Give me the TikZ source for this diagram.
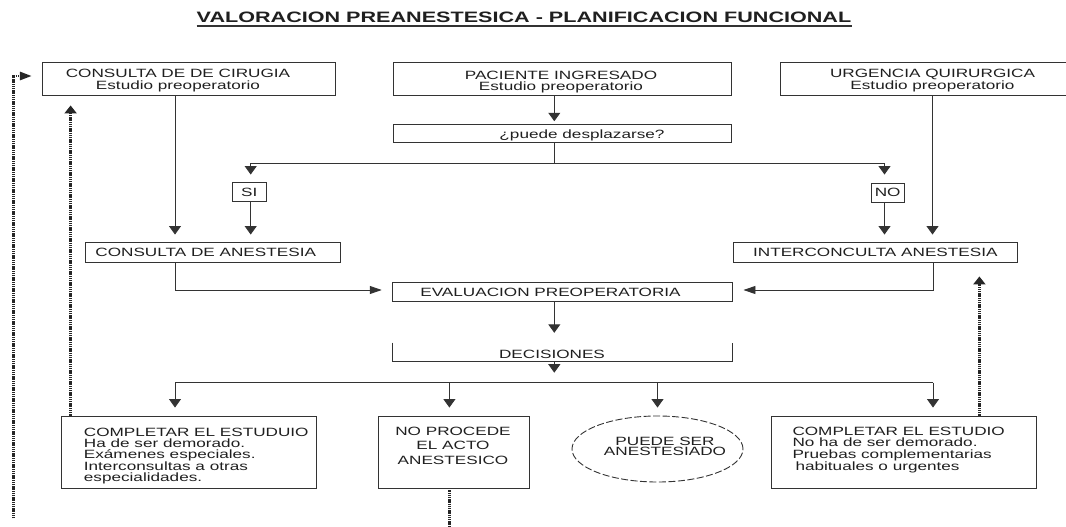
\documentclass[tikz,border=0pt]{standalone}
\usepackage{fontspec}
\setmainfont{Liberation Sans}[FakeStretch=1.43]
\usetikzlibrary{arrows.meta,shapes.geometric}
\definecolor{ink}{gray}{0.2}
\definecolor{txtc}{gray}{0.12}
\newcommand{\bodyfnt}{\fontsize{12}{12}\selectfont}
\begin{document}
\begin{tikzpicture}[x=1pt,y=-1pt,
  box/.style={draw=ink, line width=0.9pt, inner sep=0pt, text=txtc, font=\bodyfnt},
  boxline/.style={draw=ink, line width=0.9pt},
  lbl/.style={inner sep=0pt, text=txtc, font=\bodyfnt},
  varr/.style={draw=ink, line width=0.9pt, -{Triangle[width=12pt,length=8.5pt]}},
  harr/.style={draw=ink, line width=0.9pt, -{Triangle[width=8pt,length=12pt]}},
  plain/.style={draw=ink, line width=0.9pt},
  dots/.style={draw=black!85, line width=2.6pt, dash pattern=on 1.4pt off 0.8pt},
  vdotarr/.style={dots, -{Triangle[width=12pt,length=8pt]}},
  hdotarr/.style={dots, -{Triangle[width=8pt,length=12pt]}}
]
\useasboundingbox (0,0) rectangle (1066,527);

% title
\node[lbl, font=\bfseries\fontsize{15.1}{15}\selectfont, anchor=base] (title) at (524,22.7)
  {VALORACION PREANESTESICA - PLANIFICACION FUNCIONAL};
\draw[ink, line width=2pt] ([yshift=-3pt]title.base west) -- ([yshift=-3pt]title.base east);

% top row
\node[box, minimum width=292.3pt, minimum height=32.3pt] (cir) at (188.85,78.85) {};
\node[lbl, align=center, anchor=north, font=\fontsize{12}{12}\selectfont] (cirT) at (178,69)
  {CONSULTA DE DE CIRUGIA\\Estudio preoperatorio};
\node[box, minimum width=338.4pt, minimum height=32.3pt] (pac) at (562.5,78.85) {};
\node[lbl, align=center, anchor=north, font=\fontsize{12}{10.5}\selectfont] (pacT) at (561,71)
  {PACIENTE INGRESADO\\Estudio preoperatorio};
\node[box, minimum width=286.3pt, minimum height=32.3pt] (urg) at (923.85,78.85) {};
\node[lbl, align=center, anchor=north, font=\fontsize{12}{11.6}\selectfont] (urgT) at (932.5,69)
  {URGENCIA QUIRURGICA\\Estudio preoperatorio};

\node[box, minimum width=338.4pt, minimum height=18.3pt] (desp) at (562.5,133.15) {};
\node[lbl, anchor=base] (despT) at (582,138) {¿puede desplazarse?};

\node[box, minimum width=33.8pt, minimum height=19pt] (si) at (249.3,192.2) {SI};
\node[box, minimum width=32.6pt, minimum height=19pt] (no) at (887.7,192.5) {NO};

\node[box, minimum width=255.2pt, minimum height=20pt] (cane) at (212.6,252.7) {};
\node[lbl, anchor=base] (caneT) at (205.7,256.2) {CONSULTA DE ANESTESIA};
\node[box, minimum width=283.4pt, minimum height=20pt] (inter) at (875.3,252.7) {INTERCONCULTA ANESTESIA};

\node[box, minimum width=339.9pt, minimum height=19pt] (eval) at (562.55,292.2) {};
\node[lbl, anchor=base] (evalT) at (550.5,296.7) {EVALUACION PREOPERATORIA};

\node[inner sep=0pt, minimum width=339.6pt, minimum height=19pt] (dec) at (562.4,352.2) {};
\draw[boxline] (dec.north west) -- (dec.south west) -- (dec.south east) -- (dec.north east);
\node[lbl, anchor=base] (decT) at (552,358.3) {DECISIONES};

% bottom row
\node[box, minimum width=254.8pt, minimum height=72.3pt] (cl) at (188.7,452.15) {};
\node[lbl, align=left, anchor=north west, font=\fontsize{12}{11.3}\selectfont] (clT) at (83.7,427.7)
  {COMPLETAR EL ESTUDUIO\\Ha de ser demorado.\\Exámenes especiales.\\Interconsultas a otras\\especialidades.};
\node[box, minimum width=150.5pt, minimum height=72.3pt] (np) at (454.05,452.15) {};
\node[lbl, align=center, anchor=north, font=\fontsize{12}{14.5}\selectfont] (npT) at (453,426.5)
  {NO PROCEDE\\EL ACTO\\ANESTESICO};
\node[draw=ink, line width=0.9pt, dash pattern=on 7pt off 2.5pt, ellipse, inner sep=0pt,
  minimum width=171pt, minimum height=66pt] (ell) at (657.5,449) {};
\node[lbl, align=center, anchor=north, font=\fontsize{12}{10.3}\selectfont] (ellT) at (665,436.7)
  {PUEDE SER\\ANESTESIADO};
\node[box, minimum width=265pt, minimum height=72pt] (cr) at (904,452) {};
\node[lbl, align=left, anchor=north west, font=\fontsize{12}{11.7}\selectfont] (crT) at (792.3,426.7)
  {COMPLETAR EL ESTUDIO\\No ha de ser demorado.\\Pruebas complementarias\\\hspace*{3pt}habituales o urgentes};

% connectors
\draw[varr, shorten >=7.7pt] (175,0 |- cir.south) -- (175,0 |- cane.north);
\draw[varr, shorten >=2.3pt] (554.3,0 |- pac.south) -- (554.3,0 |- desp.north);
\draw[varr, shorten >=7.7pt] (554.3,0 |- desp.south) -- (554.3,163.3) -| (250.7,0 |- si.north);
\draw[varr, shorten >=8pt] (554.3,163.3) -| (884.5,0 |- no.north);
\draw[varr, shorten >=7.7pt] (250.7,0 |- si.south) -- (250.7,0 |- cane.north);
\draw[varr, shorten >=7.7pt] (884.5,0 |- no.south) -- (884.5,0 |- inter.north);
\draw[varr, shorten >=7.7pt] (932.5,0 |- urg.south) -- (932.5,0 |- inter.north);
\draw[harr, shorten >=10.4pt] (175,0 |- cane.south) |- (eval.west |- 0,290);
\draw[harr, shorten >=10.5pt] (933,0 |- inter.south) |- (eval.east |- 0,290);
\draw[varr, shorten >=9.7pt] (554.3,0 |- eval.south) -- (554.3,0 |- dec.north);
\coordinate (busL) at (175,382.7);
\coordinate (busR) at (933,382.7);
\draw[varr, shorten >=10pt] (554.3,0 |- dec.south) -- (554.3,0 |- busL);
\draw[plain] (busL) -- (busR);
\draw[varr, shorten >=8pt] (busL) -- (busL |- cl.north);
\draw[varr, shorten >=8pt] (449.4,0 |- busL) -- (449.4,0 |- np.north);
\draw[varr, shorten >=8pt] (657.5,0 |- busL) -- (ell.north);
\draw[varr, shorten >=8pt] (busR) -- (busR |- cr.north);

% dotted feedback lines
\coordinate (dl) at (13.5,518.3);
\draw[hdotarr, shorten >=10.4pt] (dl) |- (cir.west |- 0,76);
\draw[vdotarr, shorten >=10pt] (70.6,0 |- cl.north) -- (70.6,0 |- cir.south);
\draw[vdotarr, shorten >=13.3pt] (979.4,0 |- cr.north) -- (979.4,0 |- inter.south);
\coordinate (db) at (449.4,527);
\draw[dots] ([yshift=-1.7pt]449.4,0 |- np.south) -- (db);
\end{tikzpicture}
\end{document}
